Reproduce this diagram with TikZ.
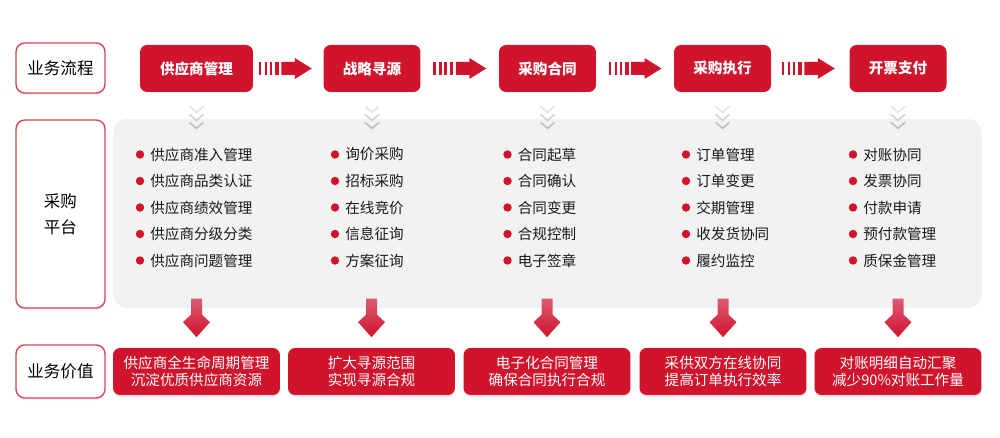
\documentclass[tikz,border=0pt]{standalone}
\usepackage{fontspec}
\setmainfont{Noto Sans CJK SC}
\usepackage{xcolor}
\usepackage{tikz}
\usetikzlibrary{calc,shadows}
\definecolor{bsred}{HTML}{D0142C}
\definecolor{bspink}{HTML}{DE5A74}
\definecolor{panelgray}{HTML}{F2F2F2}
\definecolor{textdark}{HTML}{1A1A1A}
\tikzset{
	rowlabel/.style={draw=bsred!80,line width=0.8pt,fill=white,rounded corners=5pt,
		minimum width=1.78cm,align=center,text=black,
		font=\fontsize{9.4}{14.7}\selectfont,
		drop shadow={opacity=0.12,shadow xshift=0pt,shadow yshift=-1.2pt}},
	stagebox/.style={fill=bsred,rounded corners=4pt,minimum width=1.94cm,
		minimum height=0.94cm,text=white,font=\fontsize{8.3}{10}\selectfont\bfseries},
	valuebox/.style={fill=bsred,rounded corners=4pt,minimum width=3.34cm,
		minimum height=0.94cm,text=white,align=center,
		font=\fontsize{8.3}{9.8}\selectfont,
		drop shadow={fill=bsred!60,opacity=0.2,shadow xshift=0pt,shadow yshift=-1pt}},
	panel/.style={fill=panelgray,rounded corners=8pt,minimum width=17.38cm,minimum height=3.78cm},
	itemtext/.style={anchor=west,inner sep=0pt,text=textdark,font=\fontsize{8.3}{10}\selectfont},
	chev/.style={line width=0.9pt}
}

\begin{document}
\begin{tikzpicture}[x=0.02cm,y=-0.02cm]
	\useasboundingbox (0,0) rectangle (1000,438);
	
	% row labels
	\node[rowlabel,minimum height=1.0cm] (flow) at (60.5,68) {业务流程};
	\node[rowlabel,minimum height=3.76cm] (plat) at (60.5,214) {采购\\平台};
	\node[rowlabel,minimum height=1.06cm] (worth) at (60.5,371.5) {业务价值};
	
	% process stages
	\node[stagebox,minimum width=2.26cm] (p1) at (196.5,68.5) {供应商管理};
	\node[stagebox] (p2) at (372,68.5) {战略寻源};
	\node[stagebox] (p3) at (547.5,68.5) {采购合同};
	\node[stagebox] (p4) at (722.5,68.5) {采购执行};
	\node[stagebox] (p5) at (898,68.5) {开票支付};
	
	\foreach \a/\b/\o in {p1/p2/-3,p2/p3/0,p3/p4/0,p4/p5/-2}{
		\coordinate (m) at ($(\a.east)!0.5!(\b.west)+(\o,0)$);
		\begin{scope}[shift={(m)}]
			\foreach \s/\w in {-26.5/2.7,-20.5/2.5,-15.5/2.7,-9.8/3.3}
				\fill[bsred] (\s,-6.5) rectangle ++(\w,13);
			\fill[bsred] (-3.8,-6.5) -- (9.5,-6.5) -- (9.5,-10.5) -- (26.5,0)
				-- (9.5,10.5) -- (9.5,6.5) -- (-3.8,6.5) -- cycle;
		\end{scope}
	}
	
	% platform
	\node[panel] (platform) at (547.5,213.5) {};
	
	\foreach \i in {1,...,5}{
		\begin{scope}[shift={(p\i.south)}]
			\foreach \t/\c in {20/gray!22,28/gray!35,36/gray!50}
				\draw[chev,\c] (-7,\t-6) -- (0,\t) -- (7,\t-6);
		\end{scope}
	}
	
	\foreach \x/\items [count=\i] in {
		140/{供应商准入管理,供应商品类认证,供应商绩效管理,供应商分级分类,供应商问题管理},
		335/{询价采购,招标采购,在线竞价,信息征询,方案征询},
		507.5/{合同起草,合同确认,合同变更,合规控制,电子签章},
		686/{订单管理,订单变更,交期管理,收发货协同,履约监控},
		853/{对账协同,发票协同,付款申请,预付款管理,质保金管理}}{
		\foreach \t [count=\j] in \items {
			\fill[bsred] (\x,128+26.5*\j) circle (2.4pt);
			\node[itemtext] (item-\i-\j) at (\x+10,128+26.5*\j) {\t};
		}
	}
	
	% business value
	\node[valuebox] (v1) at (196.5,371.5) {供应商全生命周期管理\\沉淀优质供应商资源};
	\node[valuebox] (v2) at (371.5,371.5) {扩大寻源范围\\实现寻源合规};
	\node[valuebox] (v3) at (547,371.5) {电子化合同管理\\确保合同执行合规};
	\node[valuebox] (v4) at (723,371.5) {采供双方在线协同\\提高订单执行效率};
	\node[valuebox] (v5) at (898,371.5) {对账明细自动汇聚\\减少90\%对账工作量};
	
	\foreach \i in {1,...,5}{
		\coordinate (tip) at ($(v\i.north)+(0,-10.5)$);
		\begin{scope}[shift={(tip)}]
			\shade[top color=bspink,bottom color=bsred] (-5.5,-38.5) -- (5.5,-38.5)
				-- (5.5,-22.5) -- (13.5,-15) -- (0,0) -- (-13.5,-15) -- (-5.5,-22.5) -- cycle;
		\end{scope}
	}
\end{tikzpicture}
\end{document}
